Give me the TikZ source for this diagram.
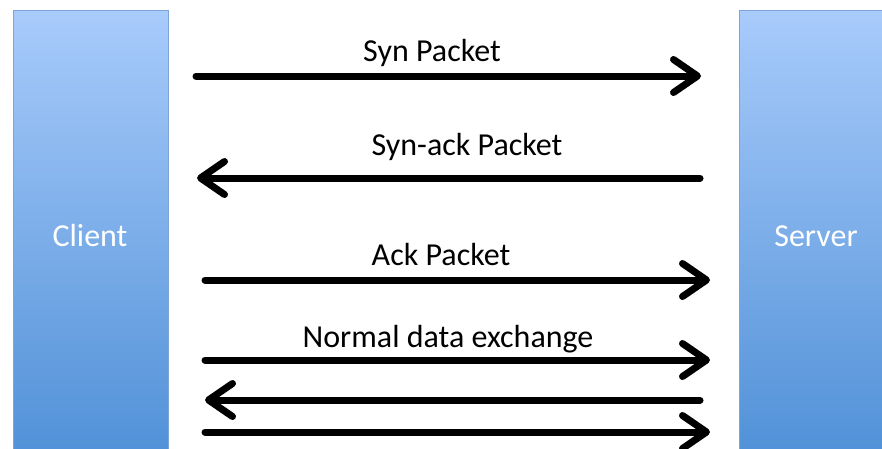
\documentclass[tikz,border=0pt]{standalone}
\usepackage{fontspec}
\setmainfont{Carlito}
\usetikzlibrary{arrows.meta}
\definecolor{bartop}{RGB}{168,203,251}
\definecolor{barbot}{RGB}{78,143,214}
\definecolor{barline}{RGB}{125,165,220}
\tikzset{
  bar/.style={draw=barline, line width=0.8pt, top color=bartop, bottom color=barbot},
  msg/.style={line width=7pt, line cap=round, -{Straight Barb[length=24pt,width=33pt,round]}},
  lbl/.style={font=\fontsize{32}{37}\selectfont, anchor=base, inner sep=0pt},
  side/.style={font=\fontsize{32}{37}\selectfont, text=white, anchor=base, inner sep=0pt}
}
\begin{document}
\begin{tikzpicture}[x=1pt,y=-1pt]
\useasboundingbox (0,0) rectangle (882,448);
\begin{scope}
\clip (0,0) rectangle (882,448);
\shade[bar] (13,10.5) rectangle (168,470);
\shade[bar] (739,10.5) rectangle (900,470);
\end{scope}
\node[side] (client) at (90,246) {Client};
\node[side] (server) at (816,246) {Server};
% coordinates
\coordinate (a1s) at (196,76);  \coordinate (a1e) at (701,76);
\coordinate (a2s) at (700,178); \coordinate (a2e) at (197,178);
\coordinate (a3s) at (205,280); \coordinate (a3e) at (710,280);
\coordinate (a4s) at (205,360); \coordinate (a4e) at (710,360);
\coordinate (a5s) at (700,400); \coordinate (a5e) at (205,400);
\coordinate (a6s) at (205,432); \coordinate (a6e) at (710,432);
\draw[msg] (a1s) -- (a1e);
\draw[msg] (a2s) -- (a2e);
\draw[msg] (a3s) -- (a3e);
\draw[msg] (a4s) -- (a4e);
\draw[msg] (a5s) -- (a5e);
\draw[msg] (a6s) -- (a6e);
\node[lbl] (l1) at (432,61) {Syn Packet};
\node[lbl] (l2) at (467,155) {Syn-ack Packet};
\node[lbl] (l3) at (441,265) {Ack Packet};
\node[lbl] (l4) at (448,347) {Normal data exchange};
\end{tikzpicture}
\end{document}
